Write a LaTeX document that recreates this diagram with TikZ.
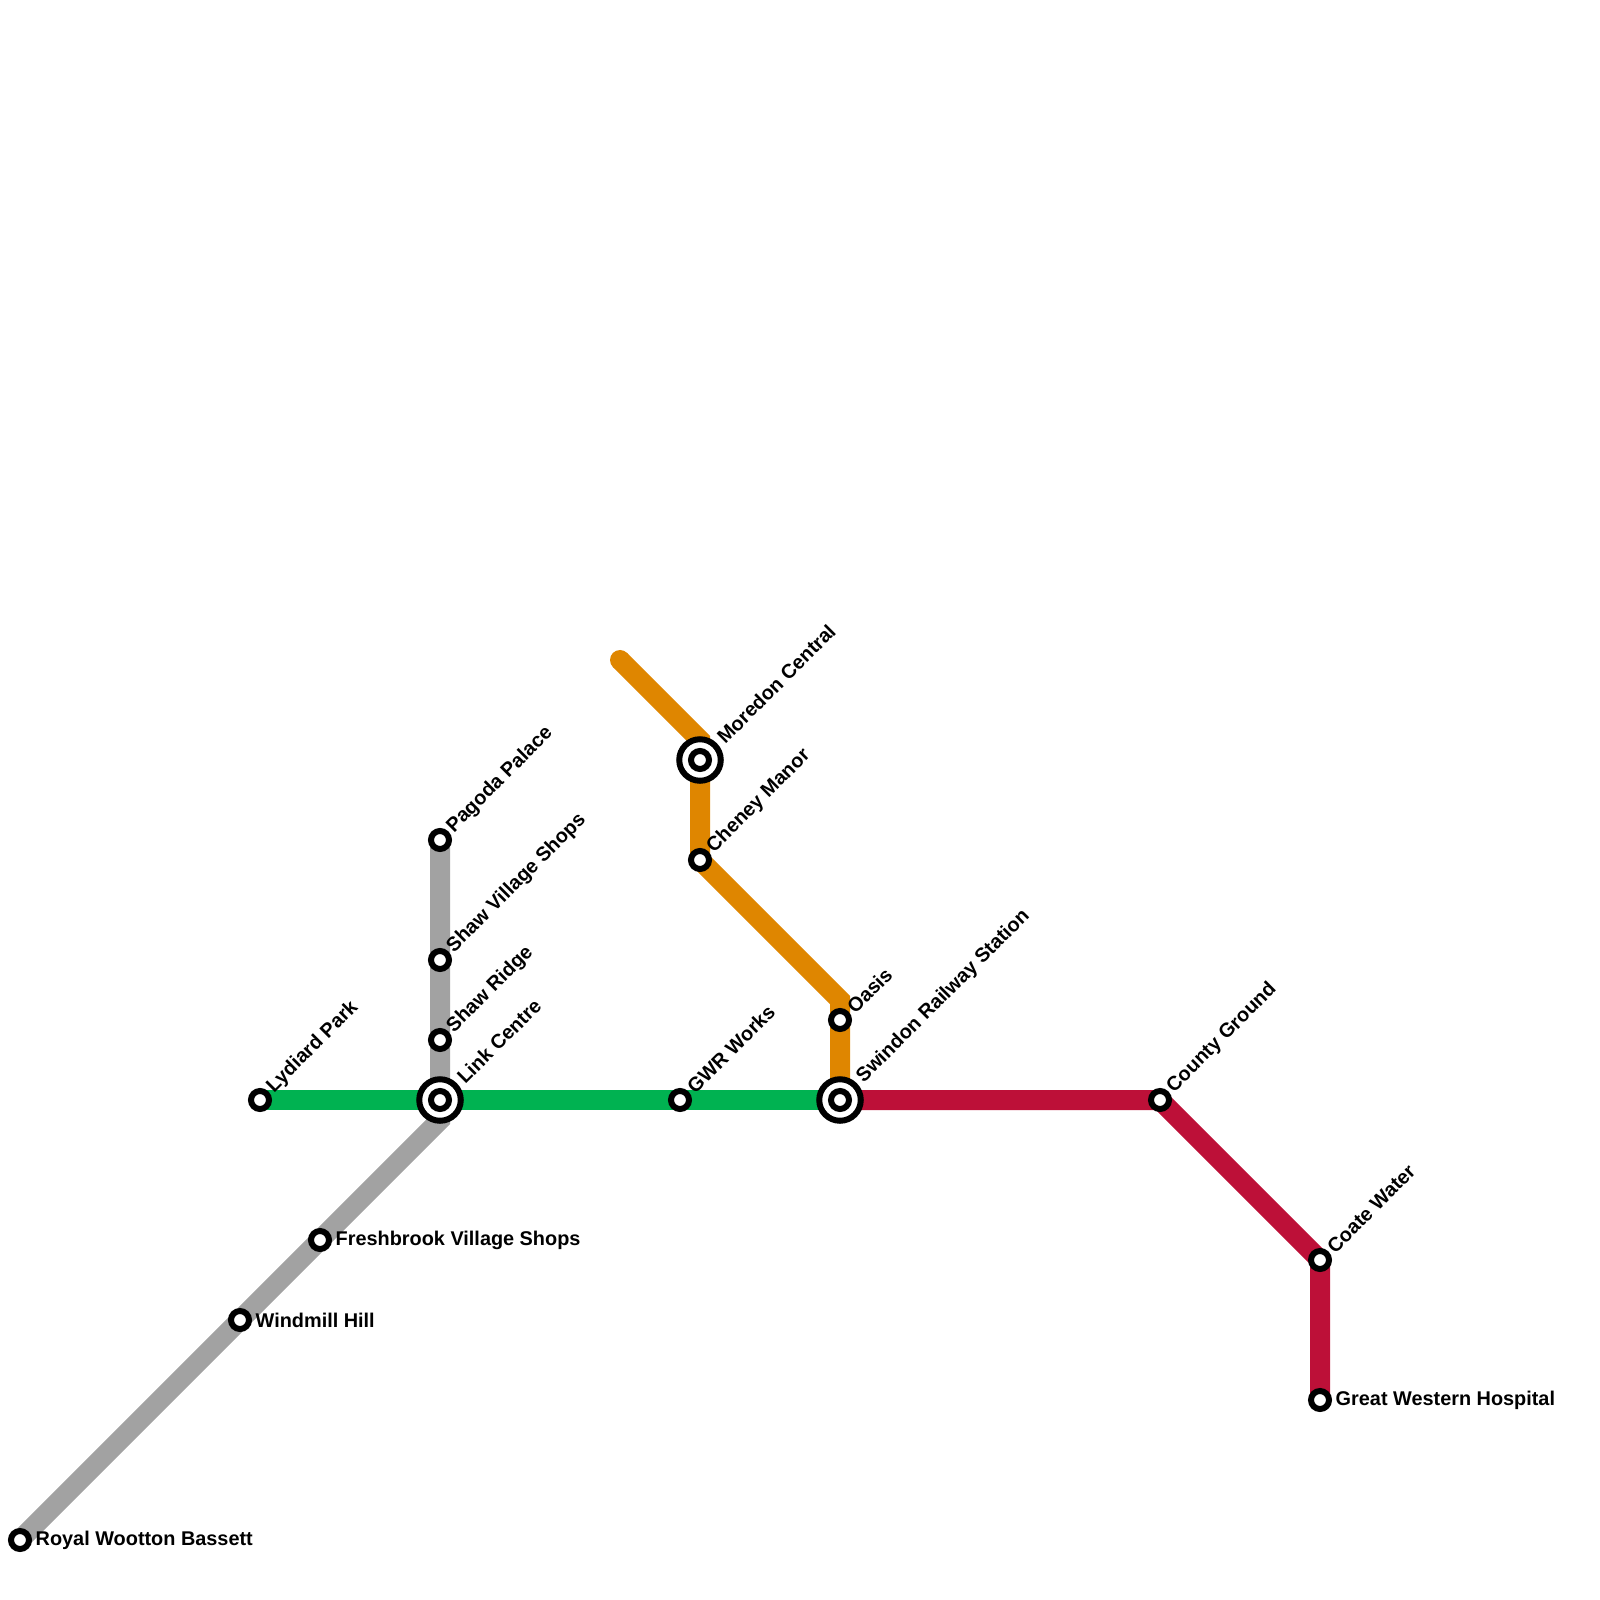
\documentclass[tikz,border=0pt]{standalone}
\usepackage{fontspec}
\setmainfont{Liberation Sans}
\usetikzlibrary{backgrounds}
\definecolor{linegray}{HTML}{A2A2A2}
\definecolor{linegreen}{HTML}{00B251}
\definecolor{lineorange}{HTML}{DF8600}
\definecolor{linered}{HTML}{BD1038}
\tikzset{
  station/.style={circle, draw=black, fill=white, line width=0.06cm, minimum size=0.18cm, inner sep=0pt, outer sep=0pt},
  hub/.style={circle, draw=black, fill=white, line width=0.06cm, minimum size=0.415cm, inner sep=0pt, outer sep=0pt},
  stationlabel/.style={anchor=west, inner sep=0pt, font=\fontsize{5.65}{7}\selectfont\bfseries},
  metroline/.style={line width=0.2cm}
}

\begin{document}
\begin{tikzpicture}[x=0.01cm, y=-0.01cm]
\useasboundingbox (0,0) rectangle (1600,1600);

% Bends
\coordinate (bendgray) at (440,1120);
\coordinate (startorange) at (620,660);
\coordinate (bendorange1) at (700,740);
\coordinate (bendorange2) at (840,1000);

% Interchanges
\foreach \name/\x/\y in {link/440/1100, swindon/840/1100, moredon/700/760}
  \node[hub] (\name-hub) at (\x,\y) {};

% Stations
\foreach \name/\x/\y in {
  royal/20/1540, windmill/240/1320, freshbrook/320/1240,
  link/440/1100, shawridge/440/1040, shawvillage/440/960, pagoda/440/840,
  lydiard/260/1100, gwr/680/1100, swindon/840/1100,
  moredon/700/760, cheney/700/860, oasis/840/1020,
  county/1160/1100, coate/1320/1260, hospital/1320/1400}
  \node[station] (\name) at (\x,\y) {};

% Labels at 45 degrees
\foreach \name/\d/\txt in {
  pagoda/14/Pagoda Palace, shawvillage/14/Shaw Village Shops, shawridge/14/Shaw Ridge,
  link/28/Link Centre, lydiard/14/Lydiard Park, gwr/14/GWR Works,
  swindon/28/Swindon Railway Station, moredon/28/Moredon Central, cheney/14/Cheney Manor,
  oasis/14/Oasis, county/14/County Ground, coate/14/Coate Water}
  \node[stationlabel, rotate=45] (\name-label) at ([shift={(-45:\d)}]\name.center) {\txt};

% Labels to the right
\foreach \name/\txt in {
  royal/Royal Wootton Bassett, windmill/Windmill Hill,
  freshbrook/Freshbrook Village Shops, hospital/Great Western Hospital}
  \node[stationlabel] (\name-label) at ([xshift=0.15cm]\name.center) {\txt};

% Lines
\begin{scope}[on background layer]
\draw[metroline, linegray] (pagoda.center) -- (shawvillage.center) -- (shawridge.center) -- (link.center) -- (bendgray) -- (freshbrook.center) -- (windmill.center) -- (royal.center);
\draw[metroline, linegreen] (lydiard.center) -- (link.center) -- (gwr.center) -- (swindon.center);
\fill[lineorange] (startorange) circle (0.1cm);
\draw[metroline, lineorange] (startorange) -- (bendorange1) -- (moredon.center) -- (cheney.center) -- (bendorange2) -- (oasis.center) -- (swindon.center);
\draw[metroline, linered] (swindon.center) -- (county.center) -- (coate.center) -- (hospital.center);
\end{scope}

\end{tikzpicture}
\end{document}
